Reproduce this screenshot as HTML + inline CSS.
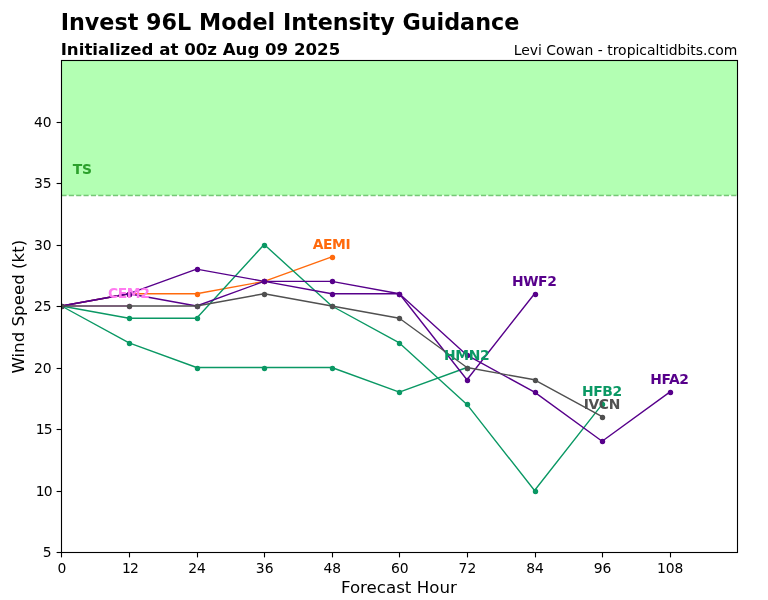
<!DOCTYPE html>
<html lang="en">
<head>
<meta charset="utf-8">
<title>Invest 96L Model Intensity Guidance</title>
<style>
html,body{margin:0;padding:0;background:#fff;}
body{width:768px;height:600px;overflow:hidden;}
svg{display:block;}
text{font-family:"DejaVu Sans", "Liberation Sans", sans-serif;fill:#000;}
.b{font-weight:bold;}
.tk{font-size:13.89px;}
.lb{font-size:13.89px;font-weight:bold;text-anchor:middle;letter-spacing:-0.4px;}
</style>
</head>
<body>
<svg width="768" height="600" viewBox="0 0 768 600">
<rect x="0" y="0" width="768" height="600" fill="#ffffff"/>
<defs><clipPath id="ax"><rect x="61.44" y="60.00" width="675.84" height="492.00"/></clipPath></defs>
<rect x="61.44" y="60.00" width="675.84" height="135.30" fill="#b3ffb3"/>
<line x1="61.44" y1="195.50" x2="737.28" y2="195.50" stroke="#2ca02c" stroke-opacity="0.6" stroke-width="1.39" stroke-dasharray="5.14 2.22"/>
<text class="b" x="82.4" y="174" font-size="13.89" text-anchor="middle" style="fill:#2ca02c">TS</text>
<g clip-path="url(#ax)">
<polyline points="61.44,306.00 129.02,306.00" fill="none" stroke="#ff7af0" stroke-width="1.39" stroke-linejoin="round"/>
<circle cx="61.5" cy="306.5" r="2.7" fill="#ff7af0"/>
<circle cx="129.5" cy="306.5" r="2.7" fill="#ff7af0"/>
<polyline points="61.44,306.00 129.02,293.70 196.61,293.70 264.19,281.40 331.78,256.80" fill="none" stroke="#ff6a0d" stroke-width="1.39" stroke-linejoin="round"/>
<circle cx="61.5" cy="306.5" r="2.7" fill="#ff6a0d"/>
<circle cx="129.5" cy="294.5" r="2.7" fill="#ff6a0d"/>
<circle cx="197.5" cy="294.5" r="2.7" fill="#ff6a0d"/>
<circle cx="264.5" cy="281.5" r="2.7" fill="#ff6a0d"/>
<circle cx="332.5" cy="257.5" r="2.7" fill="#ff6a0d"/>
<polyline points="61.44,306.00 129.02,342.90 196.61,367.50 264.19,367.50 331.78,367.50 399.36,392.10 466.94,367.50" fill="none" stroke="#0a9864" stroke-width="1.39" stroke-linejoin="round"/>
<circle cx="61.5" cy="306.5" r="2.7" fill="#0a9864"/>
<circle cx="129.5" cy="343.5" r="2.7" fill="#0a9864"/>
<circle cx="197.5" cy="368.5" r="2.7" fill="#0a9864"/>
<circle cx="264.5" cy="368.5" r="2.7" fill="#0a9864"/>
<circle cx="332.5" cy="368.5" r="2.7" fill="#0a9864"/>
<circle cx="399.5" cy="392.5" r="2.7" fill="#0a9864"/>
<circle cx="467.5" cy="368.5" r="2.7" fill="#0a9864"/>
<polyline points="61.44,306.00 129.02,318.30 196.61,318.30 264.19,244.50 331.78,306.00 399.36,342.90 466.94,404.40 534.53,490.50 602.11,404.40" fill="none" stroke="#0a9864" stroke-width="1.39" stroke-linejoin="round"/>
<circle cx="61.5" cy="306.5" r="2.7" fill="#0a9864"/>
<circle cx="129.5" cy="318.5" r="2.7" fill="#0a9864"/>
<circle cx="197.5" cy="318.5" r="2.7" fill="#0a9864"/>
<circle cx="264.5" cy="245.5" r="2.7" fill="#0a9864"/>
<circle cx="332.5" cy="306.5" r="2.7" fill="#0a9864"/>
<circle cx="399.5" cy="343.5" r="2.7" fill="#0a9864"/>
<circle cx="467.5" cy="404.5" r="2.7" fill="#0a9864"/>
<circle cx="535.5" cy="491.5" r="2.7" fill="#0a9864"/>
<circle cx="602.5" cy="404.5" r="2.7" fill="#0a9864"/>
<polyline points="61.44,306.00 129.02,293.70 196.61,269.10 264.19,281.40 331.78,293.70 399.36,293.70 466.94,379.80 534.53,293.70" fill="none" stroke="#57008b" stroke-width="1.39" stroke-linejoin="round"/>
<circle cx="61.5" cy="306.5" r="2.7" fill="#57008b"/>
<circle cx="129.5" cy="294.5" r="2.7" fill="#57008b"/>
<circle cx="197.5" cy="269.5" r="2.7" fill="#57008b"/>
<circle cx="264.5" cy="281.5" r="2.7" fill="#57008b"/>
<circle cx="332.5" cy="294.5" r="2.7" fill="#57008b"/>
<circle cx="399.5" cy="294.5" r="2.7" fill="#57008b"/>
<circle cx="467.5" cy="380.5" r="2.7" fill="#57008b"/>
<circle cx="535.5" cy="294.5" r="2.7" fill="#57008b"/>
<polyline points="61.44,306.00 129.02,293.70 196.61,306.00 264.19,281.40 331.78,281.40 399.36,293.70 466.94,355.20 534.53,392.10 602.11,441.30 669.70,392.10" fill="none" stroke="#57008b" stroke-width="1.39" stroke-linejoin="round"/>
<circle cx="61.5" cy="306.5" r="2.7" fill="#57008b"/>
<circle cx="129.5" cy="294.5" r="2.7" fill="#57008b"/>
<circle cx="197.5" cy="306.5" r="2.7" fill="#57008b"/>
<circle cx="264.5" cy="281.5" r="2.7" fill="#57008b"/>
<circle cx="332.5" cy="281.5" r="2.7" fill="#57008b"/>
<circle cx="399.5" cy="294.5" r="2.7" fill="#57008b"/>
<circle cx="467.5" cy="355.5" r="2.7" fill="#57008b"/>
<circle cx="535.5" cy="392.5" r="2.7" fill="#57008b"/>
<circle cx="602.5" cy="441.5" r="2.7" fill="#57008b"/>
<circle cx="670.5" cy="392.5" r="2.7" fill="#57008b"/>
<polyline points="61.44,306.00 129.02,306.00 196.61,306.00 264.19,293.70 331.78,306.00 399.36,318.30 466.94,367.50 534.53,379.80 602.11,416.70" fill="none" stroke="#505050" stroke-width="1.39" stroke-linejoin="round"/>
<circle cx="61.5" cy="306.5" r="2.7" fill="#505050"/>
<circle cx="129.5" cy="306.5" r="2.7" fill="#505050"/>
<circle cx="197.5" cy="306.5" r="2.7" fill="#505050"/>
<circle cx="264.5" cy="294.5" r="2.7" fill="#505050"/>
<circle cx="332.5" cy="306.5" r="2.7" fill="#505050"/>
<circle cx="399.5" cy="318.5" r="2.7" fill="#505050"/>
<circle cx="467.5" cy="368.5" r="2.7" fill="#505050"/>
<circle cx="535.5" cy="380.5" r="2.7" fill="#505050"/>
<circle cx="602.5" cy="417.5" r="2.7" fill="#505050"/>
</g>
<text class="lb" x="128.72" y="298.20" style="fill:#ff7af0">CEM2</text>
<text class="lb" x="331.48" y="249.00" style="fill:#ff6a0d">AEMI</text>
<text class="lb" x="466.64" y="359.70" style="fill:#0a9864">HMN2</text>
<text class="lb" x="601.81" y="395.60" style="fill:#0a9864">HFB2</text>
<text class="lb" x="534.23" y="285.90" style="fill:#57008b">HWF2</text>
<text class="lb" x="669.40" y="384.30" style="fill:#57008b">HFA2</text>
<text class="lb" x="601.81" y="408.90" style="fill:#505050">IVCN</text>
<rect x="61.5" y="60.5" width="676.0" height="492.0" fill="none" stroke="#000" stroke-width="1.11"/>
<line x1="61.5" y1="552.5" x2="61.5" y2="557.4" stroke="#000" stroke-width="1.11"/>
<text class="tk" x="61.94" y="573.1" text-anchor="middle">0</text>
<line x1="129.5" y1="552.5" x2="129.5" y2="557.4" stroke="#000" stroke-width="1.11"/>
<text class="tk" x="129.52" y="573.1" text-anchor="middle" dx="0.9,-0.9">12</text>
<line x1="197.5" y1="552.5" x2="197.5" y2="557.4" stroke="#000" stroke-width="1.11"/>
<text class="tk" x="197.11" y="573.1" text-anchor="middle">24</text>
<line x1="264.5" y1="552.5" x2="264.5" y2="557.4" stroke="#000" stroke-width="1.11"/>
<text class="tk" x="264.69" y="573.1" text-anchor="middle">36</text>
<line x1="332.5" y1="552.5" x2="332.5" y2="557.4" stroke="#000" stroke-width="1.11"/>
<text class="tk" x="332.28" y="573.1" text-anchor="middle">48</text>
<line x1="399.5" y1="552.5" x2="399.5" y2="557.4" stroke="#000" stroke-width="1.11"/>
<text class="tk" x="399.86" y="573.1" text-anchor="middle">60</text>
<line x1="467.5" y1="552.5" x2="467.5" y2="557.4" stroke="#000" stroke-width="1.11"/>
<text class="tk" x="467.44" y="573.1" text-anchor="middle">72</text>
<line x1="535.5" y1="552.5" x2="535.5" y2="557.4" stroke="#000" stroke-width="1.11"/>
<text class="tk" x="535.03" y="573.1" text-anchor="middle">84</text>
<line x1="602.5" y1="552.5" x2="602.5" y2="557.4" stroke="#000" stroke-width="1.11"/>
<text class="tk" x="602.61" y="573.1" text-anchor="middle">96</text>
<line x1="670.5" y1="552.5" x2="670.5" y2="557.4" stroke="#000" stroke-width="1.11"/>
<text class="tk" x="670.20" y="573.1" text-anchor="middle">108</text>
<line x1="56.6" y1="552.5" x2="61.5" y2="552.5" stroke="#000" stroke-width="1.11"/>
<text class="tk" x="51.7" y="557.40" text-anchor="end">5</text>
<line x1="56.6" y1="491.5" x2="61.5" y2="491.5" stroke="#000" stroke-width="1.11"/>
<text class="tk" x="51.7" y="495.90" text-anchor="end" dx="0.9,-0.9">10</text>
<line x1="56.6" y1="429.5" x2="61.5" y2="429.5" stroke="#000" stroke-width="1.11"/>
<text class="tk" x="51.7" y="434.40" text-anchor="end" dx="0.9,-0.9">15</text>
<line x1="56.6" y1="368.5" x2="61.5" y2="368.5" stroke="#000" stroke-width="1.11"/>
<text class="tk" x="51.7" y="372.90" text-anchor="end">20</text>
<line x1="56.6" y1="306.5" x2="61.5" y2="306.5" stroke="#000" stroke-width="1.11"/>
<text class="tk" x="51.7" y="311.40" text-anchor="end">25</text>
<line x1="56.6" y1="245.5" x2="61.5" y2="245.5" stroke="#000" stroke-width="1.11"/>
<text class="tk" x="51.7" y="249.90" text-anchor="end">30</text>
<line x1="56.6" y1="183.5" x2="61.5" y2="183.5" stroke="#000" stroke-width="1.11"/>
<text class="tk" x="51.7" y="188.40" text-anchor="end">35</text>
<line x1="56.6" y1="122.5" x2="61.5" y2="122.5" stroke="#000" stroke-width="1.11"/>
<text class="tk" x="51.7" y="126.90" text-anchor="end">40</text>
<text x="398.86" y="592.5" font-size="16.67" text-anchor="middle">Forecast Hour</text>
<text transform="translate(23.7,306.70) rotate(-90)" font-size="16.67" text-anchor="middle">Wind Speed (kt)</text>
<text class="b" x="60.7" y="29.8" font-size="22.27">Invest 96L Model Intensity Guidance</text>
<text class="b" x="60.7" y="54.5" font-size="16.63">Initialized at 00z Aug 09 2025</text>
<text x="737.28" y="54.5" font-size="13.95" text-anchor="end">Levi Cowan - tropicaltidbits.com</text>
</svg>
</body>
</html>
